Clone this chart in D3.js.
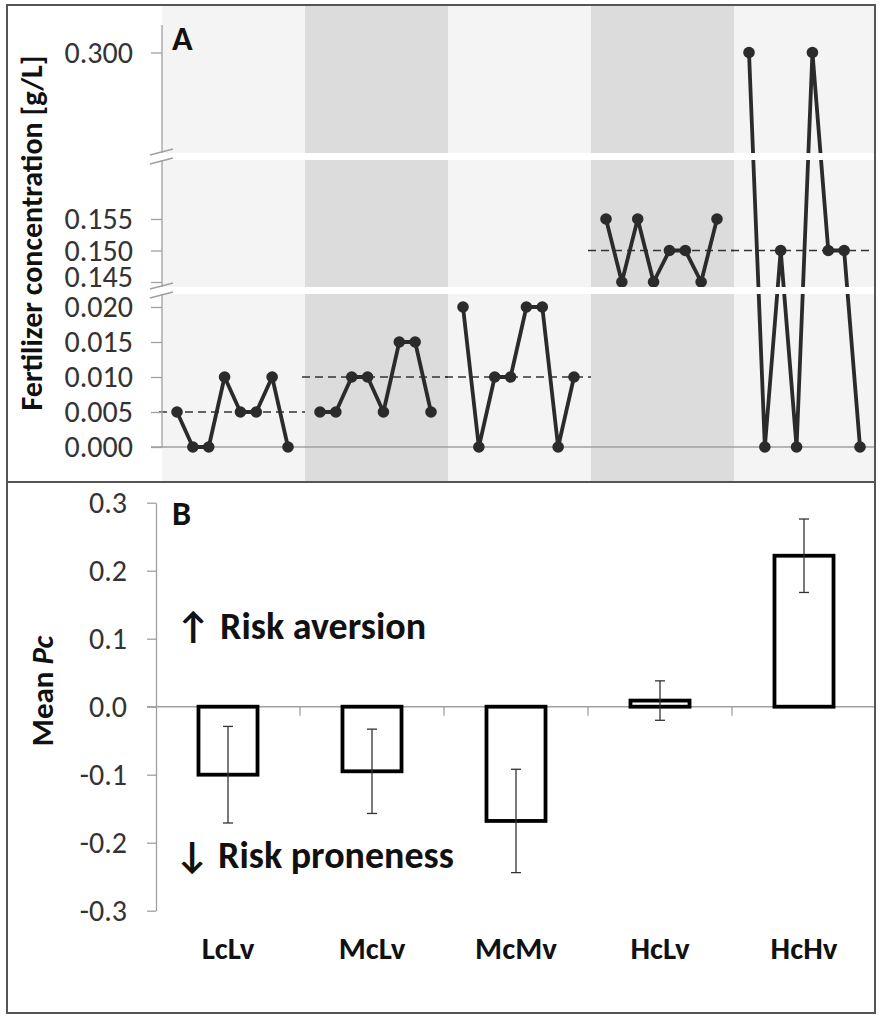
<!DOCTYPE html>
<html><head><meta charset="utf-8">
<script src="https://cdn.jsdelivr.net/npm/d3@7"></script>
<style>body{margin:0;background:#fff} text{font-family:Carlito, Lato, "DejaVu Sans", sans-serif}</style>
</head><body><svg id="c" width="885" height="1024"></svg>
<script>
// ---------- data ----------
const groups = ["LcLv","McLv","McMv","HcLv","HcHv"];
const concLcLv = [0.005,0,0,0.010,0.005,0.005,0.010,0];
const concMcLv = [0.005,0.005,0.010,0.010,0.005,0.015,0.015,0.005];
const concMcMv = [0.020,0,0.010,0.010,0.020,0.020,0,0.010];
const concHcLv = [0.155,0.145,0.155,0.145,0.150,0.150,0.145,0.155];
const concHcHv = [0.300,0,0.150,0,0.300,0.150,0.150,0];
const groupMeans = [0.005,0.010,0.010,0.150,0.150];
const ticksLow = [0,0.005,0.010,0.015,0.020];
const ticksMid = [0.145,0.150,0.155];
const ticksTop = [0.300];
const meanPc = [-0.100,-0.095,-0.168,0.009,0.222];
const errPc = [0.071,0.062,0.076,0.029,0.054];
const ticksB = [-0.3,-0.2,-0.1,0,0.1,0.2,0.3];
const series = [concLcLv,concMcLv,concMcMv,concHcLv,concHcHv];

const svg = d3.select("#c");
const AX = "#a0a0a0";

// ---------- panel A ----------
svg.append("clipPath").attr("id","clipA").append("rect")
  .attr("x",7).attr("y",6).attr("width",868).attr("height",476);
const gA = svg.append("g");
const col = d3.scaleBand().domain(groups).range([162,877]);
const pt = d3.scalePoint().domain(d3.range(8)).range([15,126]);
const yLow = d3.scaleLinear().domain([0,0.02]).range([447,307]);
const yMid = d3.scaleLinear().domain([0.145,0.155]).range([282,219]);
const yTop = d3.scaleLinear().domain([0.28,0.30]).range([150,52.5]);
const yA = v => v < 0.1 ? yLow(v) : (v < 0.2 ? yMid(v) : yTop(v));

const inner = gA.append("g").attr("clip-path","url(#clipA)");
inner.selectAll("rect.col").data(groups).join("rect").attr("class","col")
  .attr("x", d=>col(d)).attr("y",6).attr("width",col.step()).attr("height",476)
  .attr("fill",(d,i)=> i%2 ? "#dcdcdc" : "#f4f4f4");

inner.append("line").attr("x1",151).attr("x2",877).attr("y1",yLow(0)).attr("y2",yLow(0))
  .attr("stroke",AX).attr("stroke-width",1.3);

inner.selectAll("line.mean").data(groups).join("line").attr("class","mean")
  .attr("x1",d=>col(d)-3).attr("x2",d=>col(d)+col.step())
  .attr("y1",(d,i)=>yA(groupMeans[i])).attr("y2",(d,i)=>yA(groupMeans[i]))
  .attr("stroke","#333").attr("stroke-width",1.6).attr("stroke-dasharray","8,5");

const line = d3.line().x(d=>d[0]).y(d=>d[1]);
groups.forEach((g,gi)=>{
  const pts = series[gi].map((v,i)=>[col(g)+pt(i), yA(v)]);
  inner.append("path").attr("d",line(pts)).attr("fill","none")
    .attr("stroke","#2b2b2b").attr("stroke-width",3.8).attr("stroke-linejoin","round");
  inner.selectAll(null).data(pts).join("circle")
    .attr("cx",d=>d[0]).attr("cy",d=>d[1]).attr("r",5.8).attr("fill","#2b2b2b");
});

const breaks = [[153,160],[287,294]];
inner.selectAll("rect.brk").data(breaks).join("rect")
  .attr("x",162).attr("width",720).attr("y",d=>d[0]).attr("height",d=>d[1]-d[0]).attr("fill","#fff");

const segs = [[yTop, ticksTop, 25, 153],[yMid, ticksMid, 160, 287],[yLow, ticksLow, 294, 447]];
segs.forEach(([sc, tv, y0, y1])=>{
  const ax = gA.append("g").attr("transform","translate(162,0)")
    .call(d3.axisLeft(sc).tickValues(tv).tickFormat(d3.format(".3f")).tickSize(11).tickPadding(18).tickSizeOuter(0));
  ax.select(".domain").remove();
  ax.selectAll(".tick line").attr("stroke",AX).attr("stroke-width",1.3);
  ax.selectAll(".tick text").attr("fill","#333").style("font-size","30px")
    .attr("dy", d => d === 0.145 ? "4.6" : "0.32em");
  gA.append("line").attr("x1",162).attr("x2",162).attr("y1",y0).attr("y2",y1)
    .attr("stroke",AX).attr("stroke-width",1.3);
});
breaks.forEach(([a,b])=>{
  [a-1,b+1].forEach(y=>{
    gA.append("line").attr("x1",150).attr("x2",173).attr("y1",y+3).attr("y2",y-3)
      .attr("stroke",AX).attr("stroke-width",1.5);
  });
});

gA.append("text").attr("x",172).attr("y",50).attr("font-weight","bold")
  .style("font-size","34px").attr("fill","#111").text("A");
gA.append("text").attr("transform","translate(42,233) rotate(-90)")
  .attr("text-anchor","middle").attr("font-weight","bold").style("font-size","30px")
  .attr("fill","#111").text("Fertilizer concentration [g/L]");

// ---------- panel B ----------
const gB = svg.append("g");
const xB = d3.scaleBand().domain(groups).range([156,876]).paddingInner(0.59).paddingOuter(0.295);
const yB = d3.scaleLinear().domain([-0.3,0.3]).range([910.7,502.7]);

const axB = gB.append("g").attr("transform","translate(156,0)")
  .call(d3.axisLeft(yB).tickValues(ticksB).tickFormat(d=>d.toFixed(1)).tickSize(9).tickPadding(20).tickSizeOuter(0));
axB.select(".domain").attr("stroke",AX).attr("stroke-width",1.3);
axB.selectAll(".tick line").attr("stroke",AX).attr("stroke-width",1.3);
axB.selectAll(".tick text").attr("fill","#333").style("font-size","30px");

const y0 = yB(0);
gB.append("line").attr("x1",147).attr("x2",875).attr("y1",y0).attr("y2",y0)
  .attr("stroke",AX).attr("stroke-width",1.5);
gB.selectAll("line.ctick").data(groups.slice(1)).join("line")
  .attr("x1",d=>xB(d)-xB.step()*0.295).attr("x2",d=>xB(d)-xB.step()*0.295)
  .attr("y1",y0).attr("y2",y0+9).attr("stroke",AX).attr("stroke-width",1.3);

gB.selectAll("rect.bar").data(groups).join("rect").attr("class","bar")
  .attr("x",d=>xB(d)).attr("width",xB.bandwidth())
  .attr("y",(d,i)=>Math.min(y0,yB(meanPc[i])))
  .attr("height",(d,i)=>Math.abs(yB(meanPc[i])-y0))
  .attr("fill","#fff").attr("stroke","#000").attr("stroke-width",3.8);

groups.forEach((g,i)=>{
  const cx = xB(g)+xB.bandwidth()/2;
  const lo = yB(meanPc[i]-errPc[i]), hi = yB(meanPc[i]+errPc[i]);
  const eg = gB.append("g").attr("stroke","#333").attr("stroke-width",1.3);
  eg.append("line").attr("x1",cx).attr("x2",cx).attr("y1",lo).attr("y2",hi);
  eg.append("line").attr("x1",cx-5).attr("x2",cx+5).attr("y1",lo).attr("y2",lo);
  eg.append("line").attr("x1",cx-5).attr("x2",cx+5).attr("y1",hi).attr("y2",hi);
});

gB.selectAll("text.cat").data(groups).join("text").attr("class","cat")
  .attr("x",d=>xB(d)+xB.bandwidth()/2).attr("y",959).attr("text-anchor","middle")
  .attr("font-weight","bold").style("font-size","31px").attr("fill","#111").text(d=>d);

gB.append("text").attr("x",172).attr("y",525).attr("font-weight","bold")
  .style("font-size","34px").attr("fill","#111").text("B");

const ra = gB.append("text").attr("y",639).attr("font-weight","bold")
  .style("font-size","38px").attr("fill","#111");
ra.append("tspan").attr("x",176).text("\u2191");
ra.append("tspan").attr("x",220).text("Risk aversion");
const rp = gB.append("text").attr("y",868).attr("font-weight","bold")
  .style("font-size","38px").attr("fill","#111");
rp.append("tspan").attr("x",175).text("\u2193");
rp.append("tspan").attr("x",218).text("Risk proneness");

const mp = gB.append("text").attr("transform","translate(53,691) rotate(-90)")
  .attr("text-anchor","middle").attr("font-weight","bold").style("font-size","31px").attr("fill","#111");
mp.append("tspan").text("Mean ");
mp.append("tspan").attr("font-style","italic").text("Pc");

// frames
svg.append("rect").attr("x",7).attr("y",5).attr("width",868).attr("height",477)
  .attr("fill","none").attr("stroke","#555").attr("stroke-width",2);
svg.append("rect").attr("x",7).attr("y",482).attr("width",868).attr("height",531)
  .attr("fill","none").attr("stroke","#555").attr("stroke-width",2);
</script></body></html>
